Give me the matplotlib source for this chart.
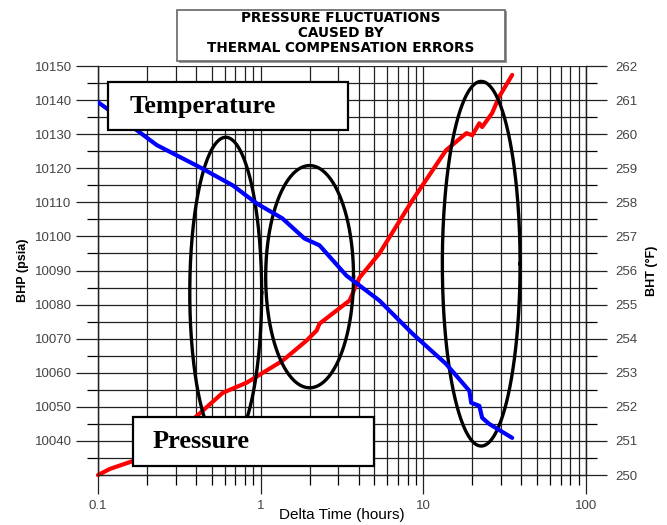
import numpy as np
import matplotlib.pyplot as plt
from matplotlib.patches import Rectangle
from matplotlib.ticker import FixedLocator, NullFormatter, FuncFormatter

# Pressure (BHP, psia) vs delta time (hours)
p_time = [0.1, 0.1185, 0.164, 0.257, 0.394, 0.584, 0.821, 1.36, 1.91, 2.21, 2.30,
          3.52, 4.05, 5.37, 8.57, 13.8, 18.4, 20.0, 22.1, 23.0, 26.5, 29.2, 35.2]
p_bhp = [10030.0, 10031.8, 10034.1, 10040.0, 10046.8, 10054.1, 10057.1, 10063.5,
         10069.4, 10072.4, 10074.4, 10081.2, 10087.9, 10095.0, 10110.6, 10125.3,
         10130.3, 10129.7, 10133.2, 10132.1, 10136.2, 10140.9, 10147.4]

# Temperature (BHT, degF) vs delta time (hours)
t_time = [0.1, 0.173, 0.230, 0.423, 0.673, 0.945, 1.36, 1.86, 2.30, 3.37, 5.37,
          8.57, 13.8, 19.2, 19.7, 22.1, 23.0, 25.4, 35.2]
t_bht = [260.94, 260.12, 259.68, 259.03, 258.50, 257.97, 257.53, 256.94, 256.74,
         255.85, 255.12, 254.15, 253.26, 252.47, 252.12, 252.03, 251.68, 251.50, 251.09]

# Highlight ellipses: centre time (h), half width (decades), centre BHP, half height (psi)
ell_time = [0.61, 2.0, 22.7]
ell_halfdec = [0.221, 0.27, 0.239]
ell_bhp = [10083.5, 10088.2, 10092.0]
ell_halfpsi = [45.6, 32.6, 53.5]

title_lines = ["PRESSURE FLUCTUATIONS", "CAUSED BY", "THERMAL COMPENSATION ERRORS"]

fig = plt.figure(figsize=(6.67, 5.25), dpi=100)
ax = fig.add_axes([0.1469, 0.0952, 0.7316, 0.779])
ax2 = ax.twinx()

ax.set_xscale('log')
ax.set_xlim(0.1, 100)
ax.set_ylim(10030, 10150)
ax2.set_ylim(250, 262)

# grid
ax.set_yticks(np.arange(10040, 10151, 10))
ax.yaxis.set_minor_locator(FixedLocator(np.arange(10035, 10150, 10)))
ax.grid(True, which='both', axis='both', color='#222222', lw=0.9)
ax.set_axisbelow(True)
ax.xaxis.set_major_formatter(FuncFormatter(lambda v, p: f'{v:g}'))
ax.xaxis.set_minor_formatter(NullFormatter())

ax2.set_yticks(np.arange(250, 263, 1))
ax2.yaxis.set_minor_locator(FixedLocator(np.arange(250.5, 262, 1)))

tick_kw = dict(labelsize=9.5, labelcolor='#444444', color='#222222')
ax.tick_params(axis='y', which='major', length=16, width=0.9, pad=3, **tick_kw)
ax.tick_params(axis='y', which='minor', length=8, width=0.9)
ax.tick_params(axis='x', which='major', length=14, width=0.9, pad=4, **tick_kw)
ax.tick_params(axis='x', which='minor', length=7, width=0.9)
ax2.tick_params(axis='y', which='major', length=15, width=0.9, pad=6, **tick_kw)
ax2.tick_params(axis='y', which='minor', length=8, width=0.9)

for a in (ax, ax2):
    for s in a.spines.values():
        s.set_color('#222222')
        s.set_linewidth(0.9)
    a.spines['top'].set_visible(False)

for lab in ax.get_xticklabels() + ax.get_yticklabels() + ax2.get_yticklabels():
    lab.set_family('Liberation Sans')

ax.set_xlabel('Delta Time (hours)', family='Liberation Sans', fontsize=11, va='center')
ax.xaxis.set_label_coords(0.5, -0.098)
ax.set_ylabel('BHP (psia)', family='Liberation Sans', fontsize=9, fontweight='bold', labelpad=4)
ax2.set_ylabel('BHT (°F)', family='Liberation Sans', fontsize=9, fontweight='bold', labelpad=6)

# curves
ax.plot(p_time, p_bhp, color='#ff0000', lw=3, solid_capstyle='round', clip_on=False, zorder=3)
ax2.plot(t_time, t_bht, color='#0000ff', lw=3, solid_capstyle='round', zorder=3)

# ellipses
th = np.linspace(0, 2 * np.pi, 300)
for tc, hd, pc, hp in zip(ell_time, ell_halfdec, ell_bhp, ell_halfpsi):
    ax.plot(10 ** (np.log10(tc) + hd * np.cos(th)), pc + hp * np.sin(th),
            color='black', lw=2.4, zorder=4)

# label boxes
ax2.add_patch(Rectangle((0.0225, 0.8415), 0.4915, 0.1175, transform=ax2.transAxes,
                        facecolor='#777777', edgecolor='none', zorder=9))
ax2.add_patch(Rectangle((0.0205, 0.8435), 0.4915, 0.1175, transform=ax2.transAxes,
                        facecolor='white', edgecolor='black', lw=1.6, zorder=10))
ax2.text(0.0656, 0.902, 'Temperature', transform=ax2.transAxes, family='Liberation Serif',
         fontweight='bold', fontsize=19, va='center', ha='left', zorder=11)

ax2.add_patch(Rectangle((0.0737, 0.020), 0.4939, 0.1198, transform=ax2.transAxes,
                        facecolor='#777777', edgecolor='none', zorder=9))
ax2.add_patch(Rectangle((0.0717, 0.022), 0.4939, 0.1198, transform=ax2.transAxes,
                        facecolor='white', edgecolor='black', lw=1.6, zorder=10))
ax2.text(0.1127, 0.083, 'Pressure', transform=ax2.transAxes, family='Liberation Serif',
         fontweight='bold', fontsize=19, va='center', ha='left', zorder=11)

# title box
fig.patches.append(Rectangle((0.2684, 0.8800), 0.4916, 0.0981, transform=fig.transFigure,
                             facecolor='#999999', edgecolor='none', figure=fig))
fig.patches.append(Rectangle((0.2654, 0.8838), 0.4916, 0.0981, transform=fig.transFigure,
                             facecolor='white', edgecolor='#666666', lw=1.2, figure=fig))
for i, line in enumerate(title_lines):
    fig.text(0.5112, 0.965 - i * 0.0285, line, ha='center', va='center',
             family='DejaVu Sans', fontweight='bold', fontsize=9.8)

fig.savefig('out.png', dpi=100)
